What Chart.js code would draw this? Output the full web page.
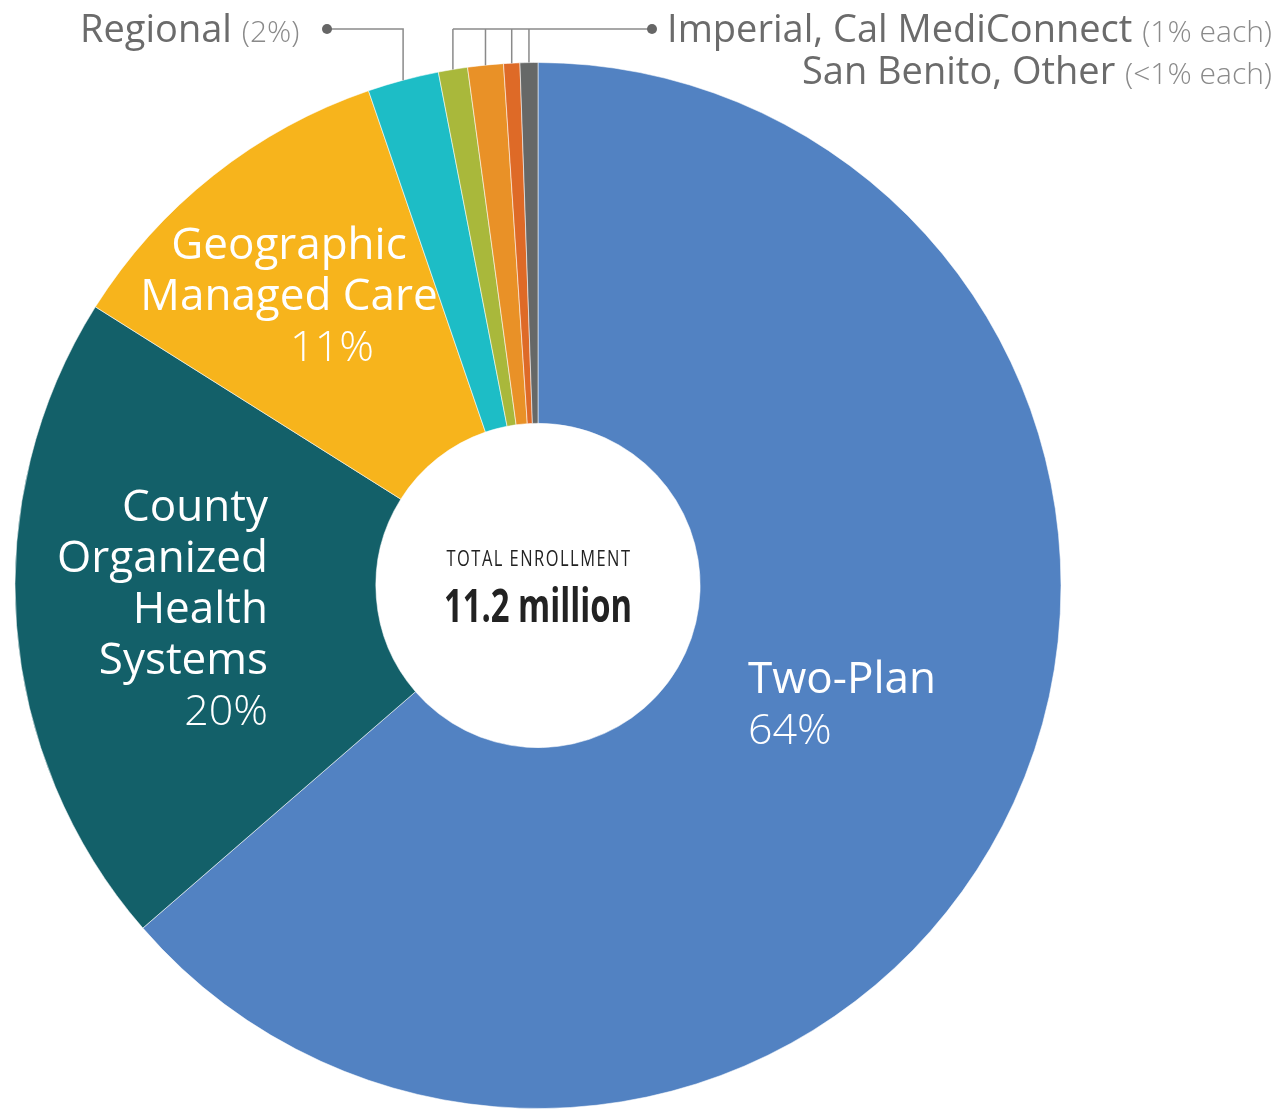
<!DOCTYPE html>
<html>
<head>
<meta charset="utf-8">
<script src="https://cdn.jsdelivr.net/npm/chart.js@4/dist/chart.umd.min.js"></script>
<style>
  body { margin: 0; background: #fff; }
  canvas { display: block; }
</style>
</head>
<body>
<canvas id="enrollmentChart" width="1277" height="1109"></canvas>
<script>
const planTypes = [
    'Two-Plan',
    'County Organized Health Systems',
    'Geographic Managed Care',
    'Regional',
    'Imperial',
    'Cal MediConnect',
    'San Benito',
    'Other'
]
const shares = [63.6, 20.3, 10.8, 2.2, 0.9, 1.1, 0.5, 0.55]
const colors = [
    '#5282c2',
    '#136069',
    '#f7b41c',
    '#1dbdc6',
    '#a9b83b',
    '#e99127',
    '#de6a27',
    '#666867'
]

const labelFont = "'Open Sans', 'Noto Sans', sans-serif"

function drawLines(ctx, lines, x, y, step, align, color) {
    ctx.textAlign = align
    lines.forEach((l, i) => {
        ctx.font = l.font
        ctx.fillStyle = l.color || color
        ctx.fillText(l.text, x, y + i * step)
    })
}

// squeeze text horizontally to fake a condensed face
function condensedText(ctx, text, x, y, width) {
    const w = ctx.measureText(text).width
    ctx.save()
    ctx.translate(x, y)
    ctx.scale(width / w, 1)
    ctx.textAlign = 'center'
    ctx.fillText(text, 0, 0)
    ctx.restore()
}

const labelPlugin = {
    id: 'labels',
    afterDraw(chart) {
        const ctx = chart.ctx
        const arcs = chart.getDatasetMeta(0).data
        ctx.save()
        ctx.textBaseline = 'alphabetic'

        // leader lines from the small slices
        const lineY = 29
        const edge = i => {
            const a = arcs[i]
            const mid = (a.startAngle + a.endAngle) / 2
            return { x: a.x + a.outerRadius * Math.cos(mid), y: a.y + a.outerRadius * Math.sin(mid) }
        }
        ctx.strokeStyle = '#8a8a8a'
        ctx.lineWidth = 1.5
        const reg = edge(3)
        ctx.beginPath()
        ctx.moveTo(327, lineY)
        ctx.lineTo(reg.x, lineY)
        ctx.lineTo(reg.x, reg.y)
        ctx.stroke()

        const smalls = [4, 5, 6, 7].map(edge)
        ctx.beginPath()
        ctx.moveTo(smalls[0].x, lineY)
        ctx.lineTo(652, lineY)
        smalls.forEach(p => {
            ctx.moveTo(p.x, lineY)
            ctx.lineTo(p.x, p.y)
        })
        ctx.stroke()

        ctx.fillStyle = '#666'
        ;[327, 652].forEach(x => {
            ctx.beginPath()
            ctx.arc(x, lineY, 5, 0, Math.PI * 2)
            ctx.fill()
        })

        // outside labels
        ctx.textAlign = 'left'
        ctx.font = `38px ${labelFont}`
        ctx.fillStyle = '#6b6b6b'
        ctx.fillText('Regional', 80, 42)
        let w = ctx.measureText('Regional ').width
        ctx.font = `300 30px ${labelFont}`
        ctx.fillStyle = '#8a8a8a'
        ctx.fillText('(2%)', 80 + w, 42)

        const rightEdge = 1272
        const outside = [
            { main: 'Imperial, Cal MediConnect', note: '(1% each)', y: 42 },
            { main: 'San Benito, Other', note: '(<1% each)', y: 84 }
        ]
        outside.forEach(o => {
            ctx.font = `300 30px ${labelFont}`
            const nw = ctx.measureText(o.note).width
            ctx.textAlign = 'right'
            ctx.fillStyle = '#8a8a8a'
            ctx.fillText(o.note, rightEdge, o.y)
            ctx.font = `38px ${labelFont}`
            ctx.fillStyle = '#6b6b6b'
            ctx.fillText(o.main + ' ', rightEdge - nw, o.y)
        })

        // inside labels
        const big = `44px ${labelFont}`
        const light = `300 43px ${labelFont}`
        drawLines(ctx, [
            { text: 'Geographic', font: big },
            { text: 'Managed Care', font: big }
        ], 289, 259, 51, 'center', '#fff')
        drawLines(ctx, [{ text: '11%', font: light }], 332, 361, 51, 'center', '#fff')

        drawLines(ctx, [
            { text: 'County', font: big },
            { text: 'Organized', font: big },
            { text: 'Health', font: big },
            { text: 'Systems', font: big },
            { text: '20%', font: light }
        ], 268, 521, 51, 'right', '#fff')

        drawLines(ctx, [
            { text: 'Two-Plan', font: big },
            { text: '64%', font: light }
        ], 748, 693, 51, 'left', '#fff')

        // centre text
        const cx = arcs[0].x
        ctx.fillStyle = '#222'
        ctx.font = `22px ${labelFont}`
        ctx.letterSpacing = '2px'
        condensedText(ctx, 'TOTAL ENROLLMENT', cx + 1, 566, 185)
        ctx.letterSpacing = '0px'
        ctx.font = `bold 47px ${labelFont}`
        condensedText(ctx, '11.2 million', cx, 622, 188)
        ctx.restore()
    }
}

new Chart(document.getElementById('enrollmentChart'), {
    type: 'doughnut',
    data: {
        labels: planTypes,
        datasets: [{
            data: shares,
            backgroundColor: colors,
            borderColor: 'rgba(255,255,255,0.55)',
            borderWidth: 1
        }]
    },
    options: {
        responsive: false,
        animation: false,
        cutout: '31%',
        layout: { padding: { left: 14, right: 215, top: 62, bottom: 0 } },
        plugins: {
            legend: { display: false },
            tooltip: { enabled: false }
        }
    },
    plugins: [labelPlugin]
})
</script>
</body>
</html>
